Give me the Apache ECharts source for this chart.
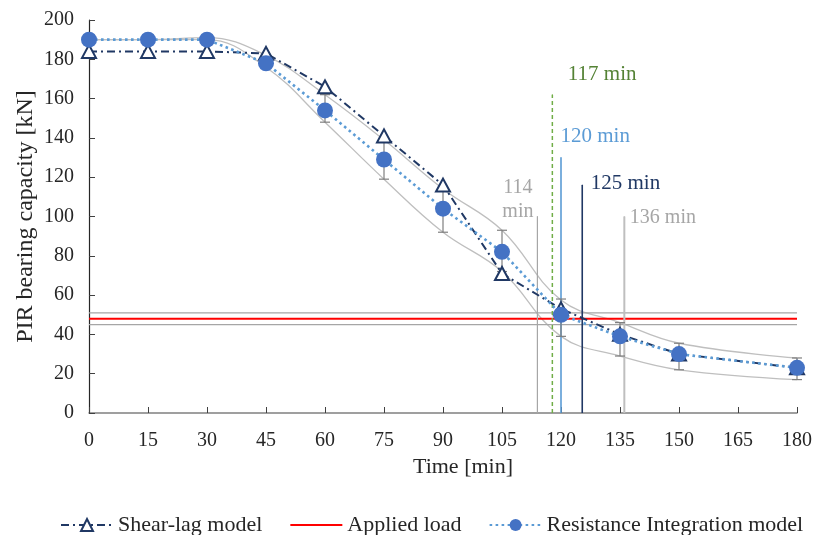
<!DOCTYPE html>
<html>
<head>
<meta charset="utf-8">
<script src="https://cdn.jsdelivr.net/npm/echarts@6/dist/echarts.min.js"></script>
<style>html,body{margin:0;padding:0;background:#fff}#c{width:826px;height:535px}</style>
</head>
<body>
<div id="c"></div>
<script>
// ---- data ----
const times = [0, 15, 30, 45, 60, 75, 90, 105, 120, 135, 150, 180];
const shearLag = [184, 184, 184, 183, 166, 141, 116, 71, 53, 40, 30, 23];
const resistance = [190, 190, 190, 178, 154, 129, 104, 82, 50, 39, 30, 23];
const resLow = [null, null, null, 176, 148, 119, 92, 72, 39, 29, 22, 17];
const resHigh = [null, null, null, 181, 162, 139, 114, 93, 58, 46, 35.5, 28];
const upperBound = [190, 190, 191, 182, 162, 139, 114, 93, 57.5, 46, 35.5, 28];
const lowerBound = [190, 190, 190, 176, 148, 119, 92, 72, 39, 29, 22, 17];
const appliedLoad = 48;
const loadBandLow = 45;
const loadBandHigh = 51;
const markTimes = [114, 117.8, 120, 125.4, 136.1];
const markTops = [100, 162, 130, 116, 100];
const markLabels = ['114\nmin', '117 min', '120 min', '125 min', '136 min'];

const FONT = 'Liberation Serif';
const NAVY = '#203864';
const pair = (a, b) => a.map((v, i) => [b[i], v]);

const markStyles = [
  {color: '#A6A6A6', width: 1.2, type: 'solid', text: '#A6A6A6', pos: [-19, -16], align: 'center', size: 20},
  {color: '#70AD47', width: 1.5, type: [4, 3], text: '#548235', pos: [16, -20], align: 'left', size: 21},
  {color: '#5B9BD5', width: 1.6, type: 'solid', text: '#5B9BD5', pos: [0, -21], align: 'left', size: 21},
  {color: NAVY, width: 1.6, type: 'solid', text: NAVY, pos: [9, -1], align: 'left', size: 21},
  {color: '#BFBFBF', width: 2, type: 'solid', text: '#A6A6A6', pos: [6, 2], align: 'left', size: 20}
];

const markSeries = markTimes.map((t, i) => {
  const s = markStyles[i];
  return {
    type: 'line', name: 'mark' + i, z: 2, silent: true,
    symbol: 'circle', symbolSize: 1, showSymbol: true,
    itemStyle: {color: s.color},
    lineStyle: {color: s.color, width: s.width, type: s.type},
    data: [
      {value: [t, 0], symbol: 'none'},
      {value: [t, markTops[i]], label: {
        show: true, formatter: markLabels[i], position: s.pos,
        align: s.align, verticalAlign: 'middle', color: s.text,
        fontFamily: FONT, fontSize: s.size, lineHeight: 24
      }}
    ]
  };
});

const errData = times.map((t, i) => [t, resLow[i], resHigh[i]]).filter(d => d[1] !== null);

const chart = echarts.init(document.getElementById('c'), null, {renderer: 'canvas'});
chart.setOption({
  animation: false,
  backgroundColor: '#fff',
  grid: {left: 89, right: 29, top: 20, bottom: 122, outerBoundsMode: 'none', containLabel: false},
  xAxis: {
    type: 'value', min: 0, max: 180, interval: 15,
    name: 'Time [min]', nameLocation: 'middle', nameGap: 32,
    nameTextStyle: {fontFamily: FONT, fontSize: 22, color: '#262626', padding: [0, 0, 0, 40]},
    axisLine: {lineStyle: {color: '#808080', width: 1.5}},
    axisTick: {inside: true, length: 6, lineStyle: {color: '#404040'}},
    axisLabel: {margin: 18, fontFamily: FONT, fontSize: 20, color: '#262626'},
    splitLine: {show: false}
  },
  yAxis: {
    type: 'value', min: 0, max: 200, interval: 20,
    name: 'PIR bearing capacity [kN]', nameLocation: 'middle', nameGap: 51, nameRotate: 90,
    nameMoveOverlap: false,
    nameTextStyle: {fontFamily: FONT, fontSize: 24, color: '#262626'},
    axisLine: {show: true, lineStyle: {color: '#262626', width: 1.2}},
    axisTick: {show: true, inside: true, length: 6, lineStyle: {color: '#404040'}},
    axisLabel: {margin: 15, fontFamily: FONT, fontSize: 20, color: '#262626'},
    splitLine: {show: false}
  },
  legend: {
    data: [
      'Shear-lag model',
      {name: 'Applied load', itemStyle: {opacity: 0, color: 'rgba(0,0,0,0)', borderWidth: 0}},
      'Resistance Integration model'
    ],
    left: 55, top: 509, itemWidth: 52, itemHeight: 15, itemGap: 27,
    textStyle: {fontFamily: FONT, fontSize: 22, color: '#262626'},
    selectedMode: false
  },
  series: [
    {type: 'line', name: 'upper', z: 1, silent: true, symbol: 'none', smooth: 0.4,
     lineStyle: {color: '#BFBFBF', width: 1.3}, data: pair(upperBound, times)},
    {type: 'line', name: 'lower', z: 1, silent: true, symbol: 'none', smooth: 0.4,
     lineStyle: {color: '#BFBFBF', width: 1.3}, data: pair(lowerBound, times)},
    {type: 'line', name: 'bandLow', z: 1, silent: true, symbol: 'none',
     lineStyle: {color: '#A6A6A6', width: 1.2}, data: [[0, loadBandLow], [180, loadBandLow]]},
    {type: 'line', name: 'bandHigh', z: 1, silent: true, symbol: 'none',
     lineStyle: {color: '#A6A6A6', width: 1.2}, data: [[0, loadBandHigh], [180, loadBandHigh]]},
    {type: 'line', name: 'Applied load', z: 2, symbol: 'none',
     itemStyle: {color: '#FF0000'},
     lineStyle: {color: '#FF0000', width: 2}, data: [[0, appliedLoad], [180, appliedLoad]]},
    ...markSeries,
    {type: 'custom', name: 'errors', z: 3, silent: true,
     encode: {x: 0, y: [1, 2]},
     renderItem: (params, api) => {
       const a = api.coord([api.value(0), api.value(1)]);
       const b = api.coord([api.value(0), api.value(2)]);
       const hw = 5, st = {stroke: '#7F7F7F', lineWidth: 1.2};
       return {type: 'group', children: [
         {type: 'line', shape: {x1: a[0], y1: a[1], x2: b[0], y2: b[1]}, style: st},
         {type: 'line', shape: {x1: a[0] - hw, y1: a[1], x2: a[0] + hw, y2: a[1]}, style: st},
         {type: 'line', shape: {x1: b[0] - hw, y1: b[1], x2: b[0] + hw, y2: b[1]}, style: st}
       ]};
     },
     data: errData},
    {type: 'line', name: 'Shear-lag model', z: 4,
     symbol: 'triangle', symbolSize: [14, 13],
     itemStyle: {color: '#fff', borderColor: NAVY, borderWidth: 2},
     lineStyle: {color: NAVY, width: 2, type: [8, 4, 2, 4]},
     data: pair(shearLag, times)},
    {type: 'line', name: 'Resistance Integration model', z: 5,
     symbol: 'circle', symbolSize: 16,
     itemStyle: {color: '#4472C4'},
     lineStyle: {color: '#5B9BD5', width: 2.6, type: [2.6, 3.4]},
     data: pair(resistance, times)}
  ]
});
</script>
</body>
</html>
